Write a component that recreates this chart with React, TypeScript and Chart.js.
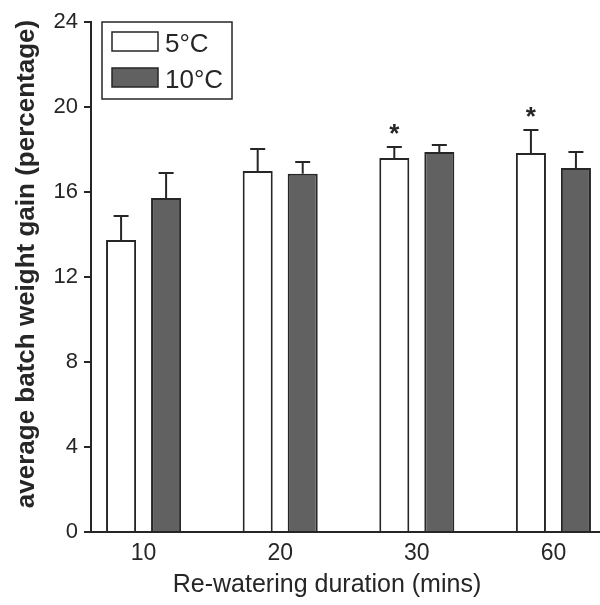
import { useEffect, useRef } from "react";
import { Chart, registerables } from "chart.js";

Chart.register(...registerables);

const categories = ["10", "20", "30", "60"];
const seriesLabels = ["5°C", "10°C"];
const gain5 = [13.74, 16.99, 17.6, 17.84];
const gain10 = [15.72, 16.86, 17.88, 17.13];
const err5 = [1.13, 1.03, 0.52, 1.08];
const err10 = [1.17, 0.55, 0.33, 0.75];
const sig5 = [false, false, true, true];
const xTitle = "Re-watering duration (mins)";
const yTitle = "average batch weight gain (percentage)";

const FONT = "'Liberation Sans', Arial, Helvetica, sans-serif";
const INK = "#262626";
const DARK_FILL = "#616161";

const gains = [gain5, gain10];
const errs = [err5, err10];
const sigs = [sig5, null as boolean[] | null];

const overlay = {
  id: "overlay",
  afterDatasetsDraw(chart: any) {
    const ctx = chart.ctx as CanvasRenderingContext2D;
    const y = chart.scales.y;
    chart.data.datasets.forEach((_ds: any, di: number) => {
      const meta = chart.getDatasetMeta(di);
      meta.data.forEach((bar: any, j: number) => {
        const { x, width } = bar.getProps(["x", "width"], true);
        const topV = gains[di][j];
        const by = y.getPixelForValue(topV);
        const cap = y.getPixelForValue(topV + errs[di][j]);
        ctx.save();
        ctx.strokeStyle = INK;
        ctx.lineWidth = 2;
        ctx.beginPath();
        ctx.moveTo(x, by);
        ctx.lineTo(x, cap);
        ctx.moveTo(x - width / 4, cap);
        ctx.lineTo(x + width / 4, cap);
        ctx.stroke();
        const s = sigs[di];
        if (s && s[j]) {
          ctx.fillStyle = INK;
          ctx.font = `bold 26px ${FONT}`;
          ctx.textAlign = "center";
          ctx.textBaseline = "alphabetic";
          ctx.fillText("*", x, cap - 5);
        }
        ctx.restore();
      });
    });
  },
  afterDraw(chart: any) {
    const ctx = chart.ctx as CanvasRenderingContext2D;
    const area = chart.chartArea;
    ctx.save();
    // legend box
    ctx.strokeStyle = INK;
    ctx.lineWidth = 1.5;
    ctx.strokeRect(area.left + 11, area.top, 130, 77);
    chart.data.datasets.forEach((ds: any, i: number) => {
      const sx = area.left + 21;
      const sy = area.top + 10 + i * 36;
      ctx.fillStyle = ds.backgroundColor;
      ctx.fillRect(sx, sy, 46, 19);
      ctx.strokeStyle = ds.borderColor;
      ctx.lineWidth = 1.5;
      ctx.strokeRect(sx, sy, 46, 19);
      ctx.fillStyle = INK;
      ctx.font = `26px ${FONT}`;
      ctx.textAlign = "left";
      ctx.textBaseline = "alphabetic";
      ctx.fillText(ds.label, sx + 53, sy + 19.5);
    });
    // x title
    ctx.fillStyle = INK;
    ctx.font = `25px ${FONT}`;
    ctx.textAlign = "center";
    ctx.textBaseline = "alphabetic";
    ctx.fillText(xTitle, 327, 592);
    // y title
    ctx.translate(27, 264);
    ctx.rotate(-Math.PI / 2);
    ctx.font = `bold 26px ${FONT}`;
    ctx.textBaseline = "middle";
    ctx.fillText(yTitle, 0, 0);
    ctx.restore();
  },
};

export default function App() {
  const ref = useRef<HTMLCanvasElement | null>(null);
  useEffect(() => {
    if (!ref.current) return;
    const chart = new Chart(ref.current, {
      type: "bar",
      data: {
        datasets: [
          {
            label: seriesLabels[0],
            data: gain5.map((v, i) => ({ x: i, y: v })),
            backgroundColor: "#ffffff",
            borderColor: INK,
            borderWidth: 2,
            categoryPercentage: 0.659,
            barPercentage: 0.667,
          },
          {
            label: seriesLabels[1],
            data: gain10.map((v, i) => ({ x: i, y: v })),
            backgroundColor: DARK_FILL,
            borderColor: INK,
            borderWidth: 2,
            categoryPercentage: 0.659,
            barPercentage: 0.667,
          },
        ] as any,
      },
      options: {
        animation: false,
        responsive: false,
        devicePixelRatio: 1,
        layout: { padding: { top: 22, left: 0, right: 0, bottom: 0 } },
        plugins: { legend: { display: false }, tooltip: { enabled: false } },
        scales: {
          x: {
            type: "linear",
            offset: false,
            min: -0.385,
            max: 3.341,
            afterBuildTicks: (s: any) => {
              s.ticks = categories.map((_c, i) => ({ value: i }));
            },
            afterFit: (s: any) => {
              s.height = 73;
            },
            ticks: {
              callback: (v: any) => categories[v] ?? "",
              font: { family: FONT, size: 23 },
              color: INK,
              padding: 8,
              autoSkip: false,
              maxRotation: 0,
            },
            grid: { display: false, drawTicks: false, offset: false },
            border: { display: true, color: INK, width: 2 },
          },
          y: {
            min: 0,
            max: 24,
            afterFit: (s: any) => {
              s.width = 91;
            },
            ticks: {
              stepSize: 4,
              font: { family: FONT, size: 22 },
              color: INK,
              padding: 6,
            },
            grid: { drawOnChartArea: false, tickLength: 7, color: INK, lineWidth: 2 },
            border: { display: true, color: INK, width: 2 },
          },
        },
      } as any,
      plugins: [overlay],
    });
    return () => chart.destroy();
  }, []);
  return (
    <div style={{ position: "fixed", left: 0, top: 0, width: 600, height: 605, background: "#fff" }}>
      <canvas ref={ref} width={600} height={605} style={{ display: "block", width: 600, height: 605 }} />
    </div>
  );
}
